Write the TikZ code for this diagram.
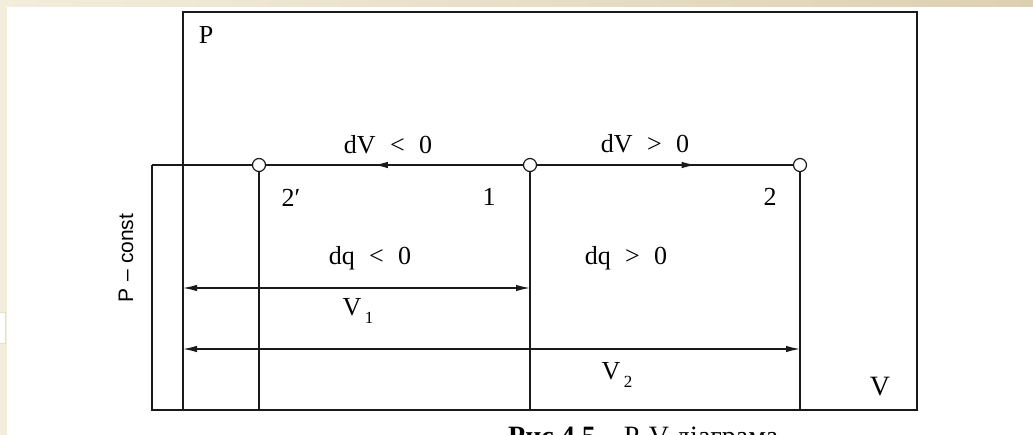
\documentclass[tikz,border=0pt]{standalone}
\usepackage{fontspec}
\setmainfont{Liberation Serif}
\newfontfamily\sansf{Liberation Sans}
\usetikzlibrary{arrows.meta,decorations.markings}
\definecolor{beigeL}{HTML}{F2EDDC}
\definecolor{beigeR}{HTML}{DDD0B2}
\definecolor{linec}{HTML}{1A1A1A}
\tikzset{
  ln/.style={draw=linec,line width=1.2pt},
  frame/.style={draw=linec,line width=1.4pt},
  pt/.style={circle,draw=linec,line width=1.2pt,fill=white,minimum size=13pt,inner sep=0pt},
  lbl/.style={font=\fontsize{26}{30}\selectfont,text=black,inner sep=0pt},
  dim/.style={ln,{Latex[length=14pt,width=6.5pt]}-{Latex[length=14pt,width=6.5pt]}},
  midarrow/.style={postaction={decorate,decoration={markings,mark=at position #1 with {\arrow{Latex[length=14pt,width=6.5pt]}}}}}
}
\begin{document}
\begin{tikzpicture}[x=1pt,y=-1pt]
\useasboundingbox (0,0) rectangle (1033,435);
\clip (0,0) rectangle (1033,435);
% background
\fill[white] (0,0) rectangle (1033,435);
\shade[left color=beigeL,right color=beigeR] (0,0) rectangle (1033,7);
\fill[beigeL] (0,0) rectangle (7,435);
\draw[beigeR!70,line width=0.8pt,fill=white] (-2,312) rectangle (5,343);
% frame
\draw[frame] (183,12) rectangle (917,410);
\coordinate (lc) at (152,165);
\coordinate (lb) at (152,410);
\coordinate (ab) at (183,410);
\draw[ln] (ab) -- (lb) -- (lc);
% points
\node[pt] (p2p) at (259,165) {};
\node[pt] (p1) at (530,165) {};
\node[pt] (p2) at (800,165) {};
\draw[ln] (lc) -- (p2p.west);
\draw[ln,midarrow=0.58] (p1.west) -- (p2p.east);
\draw[ln,midarrow=0.62] (p1.east) -- (p2.west);
% verticals
\coordinate (b2p) at (259,410);
\coordinate (b1) at (530,410);
\coordinate (b2) at (800,410);
\draw[ln] (p2p.south) -- (b2p);
\draw[ln] (p1.south) -- (b1);
\draw[ln] (p2.south) -- (b2);
% dimension lines
\coordinate (v1l) at (183,288);
\coordinate (v1r) at (530,288);
\coordinate (v2l) at (183,349);
\coordinate (v2r) at (800,349);
\draw[dim] (v1l) -- (v1r);
\draw[dim] (v2l) -- (v2r);
% labels
\node[lbl] (lP) at (206,35) {P};
\node[lbl] (lV) at (880,387) {\fontsize{28}{32}\selectfont V};
\node[lbl] (ldvn) at (388,145) {dV\hspace{0.55em}<\hspace{0.55em}0};
\node[lbl] (ldvp) at (645,144) {dV\hspace{0.55em}>\hspace{0.55em}0};
\node[lbl] (l2p) at (291,198) {2′};
\node[lbl] (l1) at (489,197) {1};
\node[lbl] (l2) at (770,197) {2};
\node[lbl] (ldqn) at (370,258) {dq\hspace{0.55em}<\hspace{0.55em}0};
\node[lbl] (ldqp) at (626,258) {dq\hspace{0.55em}>\hspace{0.55em}0};
\node[lbl] (lv1) at (358,311) {V\raisebox{-0.3em}{\fontsize{17}{19}\selectfont\hspace{0.2em}1}};
\node[lbl] (lv2) at (617,375) {V\raisebox{-0.3em}{\fontsize{17}{19}\selectfont\hspace{0.2em}2}};
\node[lbl,rotate=90,font=\sansf\fontsize{21}{24}\selectfont] (lpc) at (126,258) {P\hspace{0.3em}–\hspace{0.3em}const};
\node[lbl,anchor=base west,font=\fontsize{28}{32}\selectfont] (cap) at (508,445) {\textbf{Рис 4.5} – P-V діаграма};
\end{tikzpicture}
\end{document}
